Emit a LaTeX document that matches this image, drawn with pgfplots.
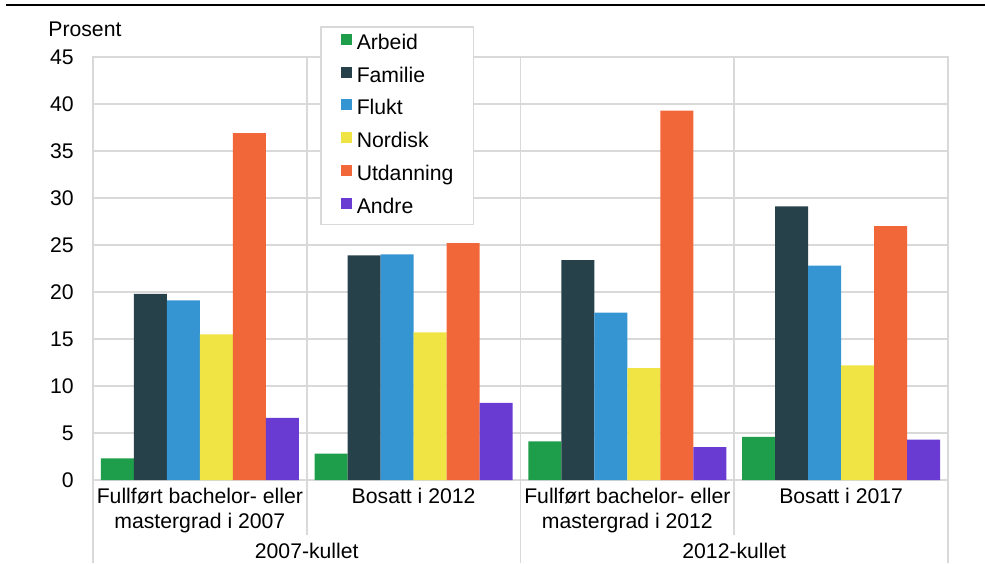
\documentclass[border=0pt]{standalone}
\usepackage{pgfplots}
\pgfplotsset{compat=1.18}
\usepackage{fontspec}
\setmainfont{Liberation Sans}
\definecolor{gridgray}{HTML}{D9D9D9}
\definecolor{arbeid}{HTML}{1E9E4A}
\definecolor{familie}{HTML}{27414A}
\definecolor{flukt}{HTML}{3595D3}
\definecolor{nordisk}{HTML}{EFE444}
\definecolor{utdanning}{HTML}{F26739}
\definecolor{andre}{HTML}{6A3BD3}
\newcommand{\chartfont}{\fontsize{10.6}{12.5}\selectfont}
\begin{document}
\chartfont
\begin{tikzpicture}
\useasboundingbox (0,0) rectangle (492.5pt,281.5pt);
\draw[black, line width=1.3pt] (3pt,279pt) -- (492.5pt,279pt);
\node[anchor=base west, inner sep=0pt] at (24pt,263pt) {Prosent};
\begin{axis}[
  at={(46.5pt,41.5pt)}, anchor=south west,
  scale only axis, width=427.5pt, height=211.5pt,
  ybar=0pt, bar width=16.5pt,
  xmin=-0.5, xmax=3.5, ymin=0, ymax=45,
  xtick={0,1,2,3},
  xticklabels={{Fullført bachelor- eller\\mastergrad i 2007},{Bosatt i 2012},
               {Fullført bachelor- eller\\mastergrad i 2012},{Bosatt i 2017}},
  ytick={0,5,...,45},
  ymajorgrids, grid style={gridgray, line width=0.75pt},
  axis line style={gridgray, line width=0.9pt},
  major tick length=0pt,
  tick style={draw=none},
  /pgf/number format/assume math mode=true,
  ticklabel style={font=\chartfont},
  xticklabel style={align=center, anchor=north, inner sep=0pt, yshift=-4pt},
  yticklabel style={anchor=east, inner sep=0pt, xshift=-9.5pt},
  clip=false,
  legend style={at={(0.2655,1.0733)}, anchor=north west,
    draw=gridgray, line width=0.75pt, fill=white,
    inner xsep=10pt, inner ysep=3.5pt,
    font=\chartfont,
    nodes={inner sep=0pt, text height=7.7pt, text depth=2.2pt},
    row sep=6.45pt,
    /tikz/every odd column/.append style={column sep=2.5pt}},
  legend cell align=left,
  legend image code/.code={\fill[#1] (0pt,-0.5pt) rectangle (5.5pt,5pt);},
]
\addplot[fill=arbeid, draw=none] coordinates {(0,2.3) (1,2.8) (2,4.1) (3,4.6)};
\addplot[fill=familie, draw=none] coordinates {(0,19.8) (1,23.9) (2,23.4) (3,29.1)};
\addplot[fill=flukt, draw=none] coordinates {(0,19.1) (1,24.0) (2,17.8) (3,22.8)};
\addplot[fill=nordisk, draw=none] coordinates {(0,15.5) (1,15.7) (2,11.9) (3,12.2)};
\addplot[fill=utdanning, draw=none] coordinates {(0,36.9) (1,25.2) (2,39.3) (3,27.0)};
\addplot[fill=andre, draw=none] coordinates {(0,6.6) (1,8.2) (2,3.5) (3,4.3)};
\legend{Arbeid, Familie, Flukt, Nordisk, Utdanning, Andre}
\draw[gridgray, line width=0.9pt] (axis cs:0.5,45) -- ([yshift=-27.5pt]axis cs:0.5,0);
\draw[gridgray, line width=0.9pt] (axis cs:2.5,45) -- ([yshift=-27.5pt]axis cs:2.5,0);
\draw[gridgray, line width=0.9pt] (axis cs:1.5,45) -- ([yshift=-41.5pt]axis cs:1.5,0);
\draw[gridgray, line width=0.9pt] (axis cs:-0.5,0) -- ([yshift=-41.5pt]axis cs:-0.5,0);
\draw[gridgray, line width=0.9pt] (axis cs:3.5,0) -- ([yshift=-41.5pt]axis cs:3.5,0);
\node[anchor=base, inner sep=0pt] at ([yshift=-39pt]axis cs:0.5,0) {2007-kullet};
\node[anchor=base, inner sep=0pt] at ([yshift=-39pt]axis cs:2.5,0) {2012-kullet};
\end{axis}
\end{tikzpicture}
\end{document}
